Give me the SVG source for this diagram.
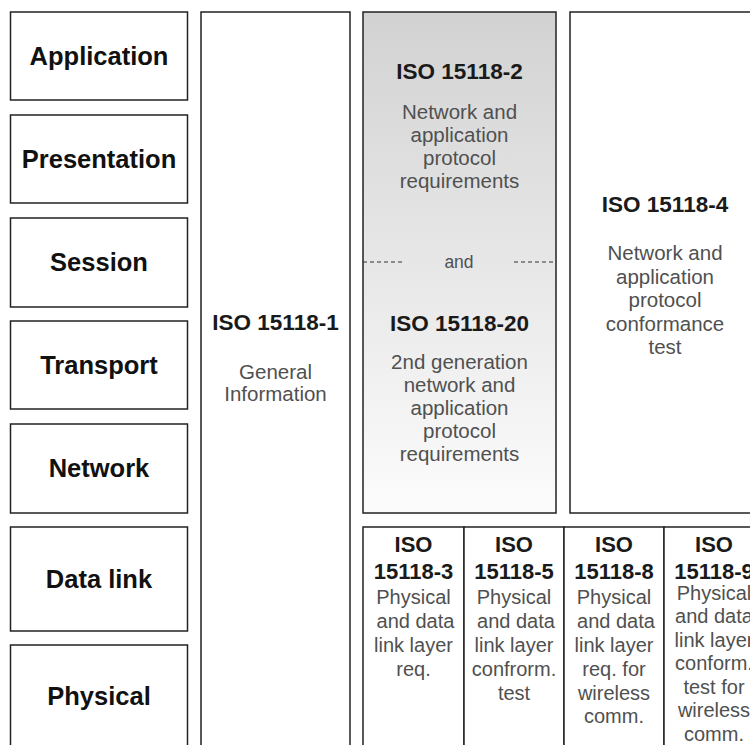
<svg xmlns="http://www.w3.org/2000/svg" width="750" height="745" viewBox="0 0 750 745">
  <defs>
    <linearGradient id="grayFade" x1="0" y1="0" x2="0" y2="1">
      <stop offset="0" stop-color="#d2d2d2"/>
      <stop offset="1" stop-color="#fcfcfc"/>
    </linearGradient>
    <style>
      .box { fill: #ffffff; stroke: #222222; stroke-width: 1.5; }
      .shade { fill: url(#grayFade); stroke: #222222; stroke-width: 1.5; }
      text { font-family: "Liberation Sans", Arial, Helvetica, sans-serif; text-anchor: middle; }
      .layer { font-size: 25.5px; font-weight: bold; fill: #111111; }
      .title { font-size: 22.5px; font-weight: bold; fill: #1a1a1a; }
      .small-title { font-size: 22px; font-weight: bold; fill: #1a1a1a; }
      .body { font-size: 20.5px; fill: #505050; }
      .cell { font-size: 20px; fill: #505050; }
      .joint { font-size: 17.5px; fill: #505050; }
      .dash { stroke: #333333; stroke-width: 1.2; stroke-dasharray: 4 3; fill: none; }
    </style>
  </defs>

  <!-- OSI layer column -->
  <g id="layer-application">
    <rect class="box" x="10.5" y="12" width="177" height="88"/>
    <text class="layer" x="99" y="64.5">Application</text>
  </g>
  <g id="layer-presentation">
    <rect class="box" x="10.5" y="115" width="177" height="88"/>
    <text class="layer" x="99" y="167.5">Presentation</text>
  </g>
  <g id="layer-session">
    <rect class="box" x="10.5" y="218" width="177" height="89"/>
    <text class="layer" x="99" y="270.5">Session</text>
  </g>
  <g id="layer-transport">
    <rect class="box" x="10.5" y="321" width="177" height="88"/>
    <text class="layer" x="99" y="373.5">Transport</text>
  </g>
  <g id="layer-network">
    <rect class="box" x="10.5" y="424" width="177" height="89"/>
    <text class="layer" x="99" y="476.5">Network</text>
  </g>
  <g id="layer-datalink">
    <rect class="box" x="10.5" y="527" width="177" height="104"/>
    <text class="layer" x="99" y="587.5">Data link</text>
  </g>
  <g id="layer-physical">
    <rect class="box" x="10.5" y="645" width="177" height="103"/>
    <text class="layer" x="99" y="704.5">Physical</text>
  </g>

  <!-- ISO 15118-1 spans all layers -->
  <g id="iso-15118-1">
    <rect class="box" x="201" y="12" width="149" height="760"/>
    <text class="title" x="275.5" y="329.5">ISO 15118-1</text>
    <text class="body" x="275.5" y="378.5">General</text>
    <text class="body" x="275.5" y="400.5">Information</text>
  </g>

  <!-- ISO 15118-2 and ISO 15118-20 share one shaded block -->
  <g id="iso-15118-2-20">
    <rect class="shade" x="363" y="12" width="193" height="501"/>
    <text class="title" x="459.5" y="79">ISO 15118-2</text>
    <text class="body" x="459.5" y="118.5">Network and</text>
    <text class="body" x="459.5" y="141.5">application</text>
    <text class="body" x="459.5" y="164.5">protocol</text>
    <text class="body" x="459.5" y="187.5">requirements</text>
    <line class="dash" x1="363" y1="262" x2="403" y2="262"/>
    <line class="dash" x1="514" y1="262" x2="556" y2="262"/>
    <text class="joint" x="459" y="268">and</text>
    <text class="title" x="459.5" y="331">ISO 15118-20</text>
    <text class="body" x="459.5" y="368.5">2nd generation</text>
    <text class="body" x="459.5" y="391.5">network and</text>
    <text class="body" x="459.5" y="414.5">application</text>
    <text class="body" x="459.5" y="437.5">protocol</text>
    <text class="body" x="459.5" y="460.5">requirements</text>
  </g>

  <!-- ISO 15118-4 -->
  <g id="iso-15118-4">
    <rect class="box" x="570" y="12" width="190" height="501"/>
    <text class="title" x="665" y="211.5">ISO 15118-4</text>
    <text class="body" x="665" y="260">Network and</text>
    <text class="body" x="665" y="283.5">application</text>
    <text class="body" x="665" y="307">protocol</text>
    <text class="body" x="665" y="330.5">conformance</text>
    <text class="body" x="665" y="354">test</text>
  </g>

  <!-- Lower physical / data link parts -->
  <g id="iso-15118-3">
    <rect class="box" x="363" y="527" width="101" height="240"/>
    <text class="small-title" x="413.5" y="552">ISO</text>
    <text class="small-title" x="413.5" y="579">15118-3</text>
    <text class="cell" x="413.5" y="604">Physical</text>
    <text class="cell" x="415.5" y="628">and data</text>
    <text class="cell" x="413.5" y="652">link layer</text>
    <text class="cell" x="413.5" y="676">req.</text>
  </g>
  <g id="iso-15118-5">
    <rect class="box" x="464" y="527" width="100" height="240"/>
    <text class="small-title" x="514" y="552">ISO</text>
    <text class="small-title" x="514" y="579">15118-5</text>
    <text class="cell" x="514" y="604">Physical</text>
    <text class="cell" x="516" y="628">and data</text>
    <text class="cell" x="514" y="652">link layer</text>
    <text class="cell" x="514" y="676">confrorm.</text>
    <text class="cell" x="514" y="700">test</text>
  </g>
  <g id="iso-15118-8">
    <rect class="box" x="564" y="527" width="100" height="240"/>
    <text class="small-title" x="614" y="552">ISO</text>
    <text class="small-title" x="614" y="579">15118-8</text>
    <text class="cell" x="614" y="604">Physical</text>
    <text class="cell" x="616" y="628">and data</text>
    <text class="cell" x="614" y="652">link layer</text>
    <text class="cell" x="614" y="676">req. for</text>
    <text class="cell" x="614" y="700">wireless</text>
    <text class="cell" x="614" y="723">comm.</text>
  </g>
  <g id="iso-15118-9">
    <rect class="box" x="664" y="527" width="100" height="240"/>
    <text class="small-title" x="714" y="552">ISO</text>
    <text class="small-title" x="714" y="579">15118-9</text>
    <text class="cell" x="714" y="599.5">Physical</text>
    <text class="cell" x="714" y="623">and data</text>
    <text class="cell" x="714" y="646.5">link layer</text>
    <text class="cell" x="714" y="670">conform.</text>
    <text class="cell" x="714" y="693.5">test for</text>
    <text class="cell" x="714" y="717">wireless</text>
    <text class="cell" x="714" y="740.5">comm.</text>
  </g>
</svg>
